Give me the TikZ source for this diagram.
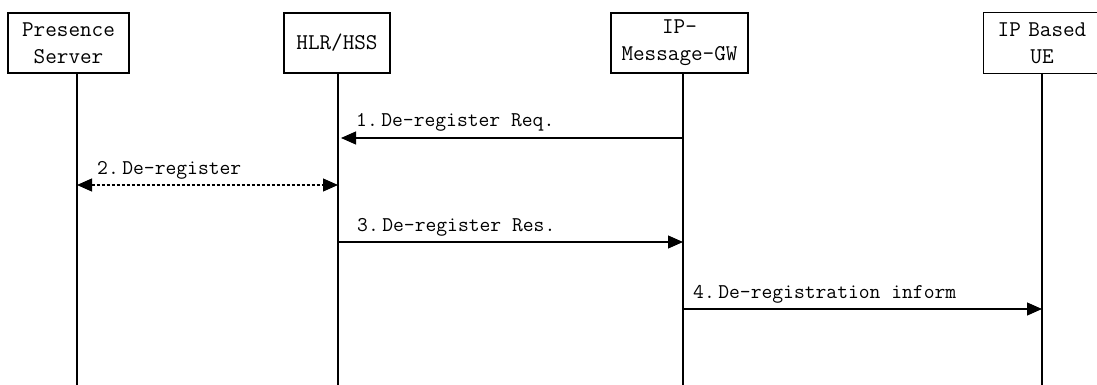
\documentclass[tikz,border=0pt]{standalone}
\usetikzlibrary{arrows.meta}

\tikzset{
  entity/.style={draw,line width=1.2pt,minimum height=60pt,inner sep=0pt,align=center,
    font=\ttfamily\fontsize{22.5}{27}\selectfont},
  lifeline/.style={line width=1.2pt},
  msg/.style={line width=1.2pt,-{Triangle[length=15pt,width=13pt]}},
  msglabel/.style={anchor=base west,inner sep=0pt,font=\ttfamily\fontsize{21}{22}\selectfont}
}

\begin{document}
\begin{tikzpicture}[x=1pt,y=-1pt,line cap=butt,line join=miter]
\useasboundingbox (0,0) rectangle (1097,385);
\clip (0,0) rectangle (1097,385);
% participants
\node[entity,minimum width=121pt] (ps)  at (68.5,43) {Presence\\Server};
\node[entity,minimum width=106pt] (hlr) at (337,43)  {HLR/HSS};
\node[entity,minimum width=137pt] (gw)  at (679.5,43) {IP-\\Message-GW};
\node[entity,draw=none,minimum width=116pt,text width=116pt] (ue) at (1042,43) {IP Based\\UE};
\draw[line width=1.2pt] ([xshift=60pt]ue.north east) -- (ue.north west) -- (ue.south west) -- ([xshift=60pt]ue.south east);
% lifelines
\coordinate (psTop)  at (77,73);   \coordinate (psBot)  at (77,385);
\coordinate (hlrTop) at (338,73);  \coordinate (hlrBot) at (338,385);
\coordinate (gwTop)  at (683,73);  \coordinate (gwBot)  at (683,385);
\coordinate (ueTop)  at (1042,73); \coordinate (ueBot)  at (1042,385);
\draw[lifeline] (psTop) -- (psBot);
\draw[lifeline] (hlrTop) -- (hlrBot);
\draw[lifeline] (gwTop) -- (gwBot);
\draw[lifeline] (ueTop) -- (ueBot);
% message end points
\coordinate (gw1) at (683,138);  \coordinate (hlr1) at (341,138);
\coordinate (ps2) at (77,185);   \coordinate (hlr2) at (338,185);
\coordinate (hlr3) at (338,242); \coordinate (gw3) at (683,242);
\coordinate (gw4) at (683,309);  \coordinate (ue4) at (1042,309);
% messages
\draw[msg] (gw1) -- (hlr1);
\node[msglabel] (lab1) at (356,127) {1.\,De-register Req.};
\draw[msg,{Triangle[length=15pt,width=13pt]}-{Triangle[length=15pt,width=13pt]},dash pattern=on 3pt off 2pt] (ps2) -- (hlr2);
\node[msglabel] (lab2) at (97,174) {2.\,De-register};
\draw[msg] (hlr3) -- (gw3);
\node[msglabel] (lab3) at (357,231) {3.\,De-register Res.};
\draw[msg] (gw4) -- (ue4);
\node[msglabel] (lab4) at (693,298) {4.\,De-registration inform};
\end{tikzpicture}
\end{document}
